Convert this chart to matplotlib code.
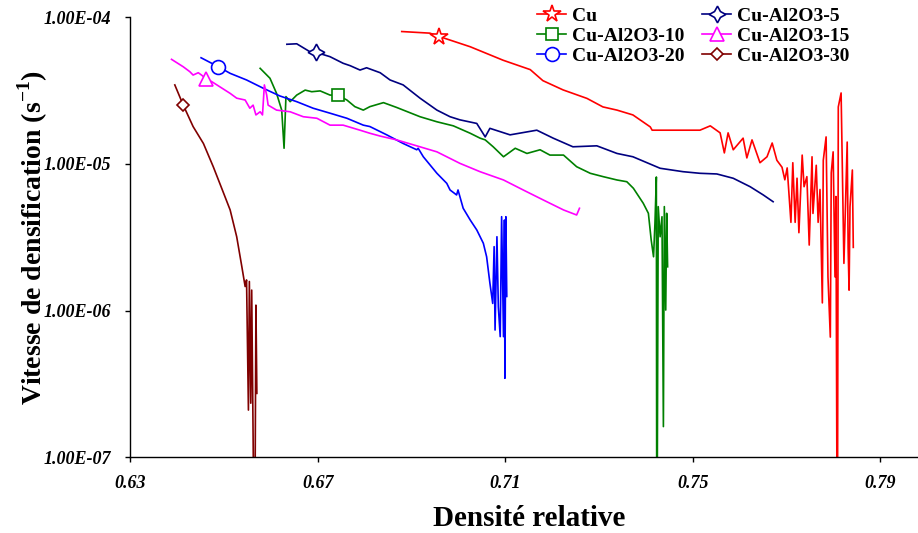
import numpy as np
import matplotlib
matplotlib.use('Agg')
import matplotlib.pyplot as plt
from matplotlib.ticker import NullLocator

# densification rate vs relative density
cu_x = [0.6879, 0.6939, 0.6959, 0.7025, 0.7095, 0.7153, 0.7180, 0.7223, 0.7274, 0.7308,
        0.7338, 0.7372, 0.7409, 0.7413, 0.7515, 0.7537, 0.7558, 0.7567, 0.7575, 0.7586,
        0.7607, 0.7615, 0.7626, 0.7643, 0.7658, 0.7669, 0.7679, 0.7690, 0.7696, 0.7701,
        0.7709, 0.7713, 0.7718, 0.7722, 0.7726, 0.7733, 0.7737, 0.7743, 0.7748, 0.7754,
        0.7756, 0.7763, 0.7767, 0.7771, 0.7776, 0.7778, 0.7784, 0.7788, 0.7793, 0.7795,
        0.7799, 0.7803, 0.7805, 0.7808, 0.7810, 0.7816, 0.7818, 0.7822, 0.7829, 0.7831,
        0.7833, 0.7835, 0.7840, 0.7842]
cu_y = [8.0e-5, 7.8e-5, 7.4e-5, 6.3e-5, 5.1e-5, 4.4e-5, 3.7e-5, 3.2e-5, 2.8e-5, 2.45e-5,
        2.33e-5, 2.16e-5, 1.79e-5, 1.70e-5, 1.70e-5, 1.82e-5, 1.63e-5, 1.19e-5, 1.63e-5, 1.25e-5,
        1.50e-5, 1.10e-5, 1.46e-5, 1.02e-5, 1.12e-5, 1.39e-5, 1.06e-5, 9.5e-6, 7.8e-6, 9.4e-6,
        4.0e-6, 1.02e-5, 4.0e-6, 8.0e-6, 3.4e-6, 1.15e-5, 7.0e-6, 8.2e-6, 2.8e-6, 1.12e-5,
        4.6e-6, 9.8e-6, 4.0e-6, 6.7e-6, 1.13e-6, 1.06e-5, 1.53e-5, 1.7e-6, 6.6e-7, 8.7e-6,
        1.21e-5, 1.7e-6, 6.0e-6, 1e-8, 2.45e-5, 3.05e-5, 1.25e-5, 2.1e-6, 1.41e-5, 2.7e-6,
        1.38e-6, 5.1e-6, 9.1e-6, 2.7e-6]

al5_x = [0.6634, 0.6655, 0.6683, 0.6696, 0.6726, 0.6754, 0.6769, 0.6790, 0.6804, 0.6833,
         0.6854, 0.6882, 0.6918, 0.6954, 0.6982, 0.7003, 0.7039, 0.7057, 0.7067, 0.7110,
         0.7167, 0.7202, 0.7244, 0.7295, 0.7338, 0.7372, 0.7430, 0.7479, 0.7515, 0.7551,
         0.7586, 0.7622, 0.7650, 0.7671]
al5_y = [6.55e-5, 6.6e-5, 5.83e-5, 5.77e-5, 5.39e-5, 4.86e-5, 4.68e-5, 4.37e-5, 4.53e-5, 4.19e-5,
         3.74e-5, 3.46e-5, 2.81e-5, 2.33e-5, 2.10e-5, 2.0e-5, 1.89e-5, 1.53e-5, 1.75e-5, 1.58e-5,
         1.70e-5, 1.50e-5, 1.31e-5, 1.33e-5, 1.18e-5, 1.12e-5, 9.35e-6, 8.86e-6, 8.64e-6, 8.55e-6,
         7.99e-6, 7.0e-6, 6.15e-6, 5.53e-6]

al10_x = [0.6577, 0.6598, 0.6612, 0.6623, 0.6628, 0.6632, 0.6641, 0.6655, 0.6673, 0.6687,
          0.6705, 0.6726, 0.6742, 0.6762, 0.6779, 0.6797, 0.6811, 0.6840, 0.6868, 0.6918,
          0.6954, 0.6989, 0.7025, 0.7046, 0.7057, 0.7074, 0.7096, 0.7121, 0.7146, 0.7174,
          0.7195, 0.7224, 0.7252, 0.7281, 0.7309, 0.7338, 0.7359, 0.7373, 0.7394, 0.7405,
          0.7411, 0.7416, 0.7419, 0.7422, 0.7423, 0.7426, 0.7430, 0.7434, 0.7437, 0.7439,
          0.7442, 0.7444, 0.7446]
al10_y = [4.49e-5, 3.84e-5, 3.03e-5, 2.33e-5, 1.28e-5, 2.88e-5, 2.66e-5, 2.95e-5, 3.19e-5, 3.11e-5,
          3.15e-5, 2.95e-5, 2.95e-5, 2.73e-5, 2.46e-5, 2.33e-5, 2.46e-5, 2.62e-5, 2.43e-5, 2.10e-5,
          1.94e-5, 1.82e-5, 1.62e-5, 1.50e-5, 1.46e-5, 1.31e-5, 1.12e-5, 1.28e-5, 1.18e-5, 1.25e-5,
          1.15e-5, 1.15e-5, 9.58e-6, 8.64e-6, 8.19e-6, 7.78e-6, 7.57e-6, 6.83e-6, 5.40e-6, 4.61e-6,
          3.03e-6, 2.33e-6, 3.94e-6, 8.15e-6, 1e-8, 5.12e-6, 3.19e-6, 4.37e-6, 1.62e-7, 5.12e-6,
          1.01e-6, 4.61e-6, 1.99e-6]

al15_x = [0.6388, 0.6413, 0.6427, 0.6434, 0.6445, 0.6452, 0.6462, 0.6474, 0.6491, 0.6513,
          0.6527, 0.6545, 0.6555, 0.6562, 0.6568, 0.6577, 0.6582, 0.6586, 0.6591, 0.6594,
          0.6612, 0.6641, 0.6669, 0.6698, 0.6726, 0.6754, 0.6790, 0.6811, 0.6833, 0.6868,
          0.6904, 0.6954, 0.7003, 0.7046, 0.7096, 0.7138, 0.7181, 0.7224, 0.7252, 0.7258]
al15_y = [5.17e-5, 4.60e-5, 4.26e-5, 4.04e-5, 4.19e-5, 4.04e-5, 3.80e-5, 3.64e-5, 3.36e-5, 3.03e-5,
          2.81e-5, 2.73e-5, 2.40e-5, 2.52e-5, 2.16e-5, 2.27e-5, 2.16e-5, 3.46e-5, 2.95e-5, 2.52e-5,
          2.33e-5, 2.27e-5, 2.10e-5, 2.05e-5, 1.84e-5, 1.84e-5, 1.70e-5, 1.62e-5, 1.55e-5, 1.46e-5,
          1.35e-5, 1.21e-5, 1.01e-5, 8.86e-6, 7.78e-6, 6.65e-6, 5.68e-6, 4.86e-6, 4.49e-6, 4.99e-6]

al20_x = [0.6451, 0.6488, 0.6513, 0.6548, 0.6584, 0.6619, 0.6655, 0.6690, 0.6726, 0.6762,
          0.6797, 0.6811, 0.6847, 0.6882, 0.6911, 0.6914, 0.6925, 0.6954, 0.6975, 0.6982,
          0.6996, 0.6999, 0.7010, 0.7025, 0.7039, 0.7053, 0.7060, 0.7067, 0.7073, 0.7076,
          0.7078, 0.7082, 0.7085, 0.7089, 0.7092, 0.7096, 0.7098, 0.7099, 0.7101, 0.7103]
al20_y = [5.30e-5, 4.60e-5, 4.15e-5, 3.74e-5, 3.28e-5, 2.91e-5, 2.66e-5, 2.40e-5, 2.22e-5, 2.05e-5,
          1.84e-5, 1.80e-5, 1.58e-5, 1.38e-5, 1.25e-5, 1.28e-5, 1.12e-5, 8.64e-6, 7.38e-6, 6.65e-6,
          6.15e-6, 6.65e-6, 4.99e-6, 4.15e-6, 3.55e-6, 2.88e-6, 2.33e-6, 1.54e-6, 1.12e-6, 2.73e-6,
          7.38e-7, 3.19e-6, 1.06e-6, 6.65e-7, 4.37e-6, 6.65e-7, 4.15e-6, 3.46e-7, 4.37e-6, 1.25e-6]

al30_x = [0.6395, 0.6413, 0.6434, 0.6456, 0.6477, 0.6495, 0.6513, 0.6527, 0.6538, 0.6545,
          0.6548, 0.6552, 0.6554, 0.6557, 0.6559, 0.6562, 0.6565, 0.6568, 0.6570]
al30_y = [3.46e-5, 2.52e-5, 1.80e-5, 1.38e-5, 9.58e-6, 6.83e-6, 4.86e-6, 3.19e-6, 1.99e-6, 1.46e-6,
          1.62e-6, 2.10e-7, 1.58e-6, 2.34e-7, 1.38e-6, 1.38e-7, 1e-8, 1.09e-6, 2.73e-7]

xtick_vals = [0.63, 0.67, 0.71, 0.75, 0.79]
xtick_labels = ['0.63', '0.67', '0.71', '0.75', '0.79']
ytick_vals = [1e-7, 1e-6, 1e-5, 1e-4]
ytick_labels = ['1.00E-07', '1.00E-06', '1.00E-05', '1.00E-04']

plt.rcParams['font.family'] = ['Liberation Serif', 'DejaVu Serif']
plt.rcParams['mathtext.fontset'] = 'custom'
plt.rcParams['mathtext.rm'] = 'Liberation Serif'
plt.rcParams['mathtext.bf'] = 'Liberation Serif:bold'


def plot_rates(savename):
    fig = plt.figure(figsize=(9.18, 5.33), dpi=100)
    ax = fig.add_axes([0.1419, 0.142, 0.8581, 0.8255])

    # (label, x, y, colour, marker, marker size, index of the marker)
    series = [
        ('Cu', cu_x, cu_y, '#FF0000', '*', 13, 2),
        ('Cu-Al2O3-10', al10_x, al10_y, '#008000', 's', 9, 12),
        ('Cu-Al2O3-20', al20_x, al20_y, '#0000FF', 'o', 10, 1),
        ('Cu-Al2O3-5', al5_x, al5_y, '#000080', (4, 1, 0), 12, 3),
        ('Cu-Al2O3-15', al15_x, al15_y, '#FF00FF', '^', 10, 6),
        ('Cu-Al2O3-30', al30_x, al30_y, '#800000', 'D', 6, 1),
    ]
    for name, x, y, col, mk, ms, idx in series:
        ax.plot(x, y, color=col, lw=1.2, marker=mk, ms=ms, markevery=[idx],
                mfc='white', mec=col, mew=1.2, label=name)

    ax.set_yscale('log')
    ax.set_xlim(0.63, 0.798)
    ax.set_ylim(1e-7, 1e-4)

    ax.set_xticks(xtick_vals)
    ax.set_xticklabels(xtick_labels, fontstyle='italic', fontweight='bold', fontsize=13)
    ax.set_yticks(ytick_vals)
    ax.set_yticklabels(ytick_labels, fontstyle='italic', fontweight='bold', fontsize=13)
    ax.yaxis.set_minor_locator(NullLocator())
    ax.xaxis.set_minor_locator(NullLocator())
    ax.tick_params(axis='both', direction='out', length=3.6, width=1, color='black')
    ax.tick_params(axis='y', pad=10)
    ax.tick_params(axis='x', pad=9)

    for side in ['top', 'right']:
        ax.spines[side].set_visible(False)
    for side in ['left', 'bottom']:
        ax.spines[side].set_linewidth(1.0)
        ax.spines[side].set_color('black')

    ax.set_xlabel('Densité relative', fontsize=21, fontweight='bold', va='top')
    ax.xaxis.set_label_coords(0.507, -0.108)
    ax.set_ylabel('Vitesse de densification (s$^{\\mathbf{-1}}$)', fontsize=20,
                  fontweight='bold')
    ax.yaxis.set_label_coords(-0.102, 0.5)

    fig.legend(loc='upper left', bbox_to_anchor=(0.583, 0.99), ncol=2, frameon=False,
               prop={'weight': 'bold', 'size': 14}, handlelength=1.5, handletextpad=0.3,
               columnspacing=0.9, labelspacing=0.12, borderpad=0.1, borderaxespad=0)

    fig.savefig(savename, dpi=100)
    plt.close(fig)


if __name__ == '__main__':
    plot_rates('out.png')
